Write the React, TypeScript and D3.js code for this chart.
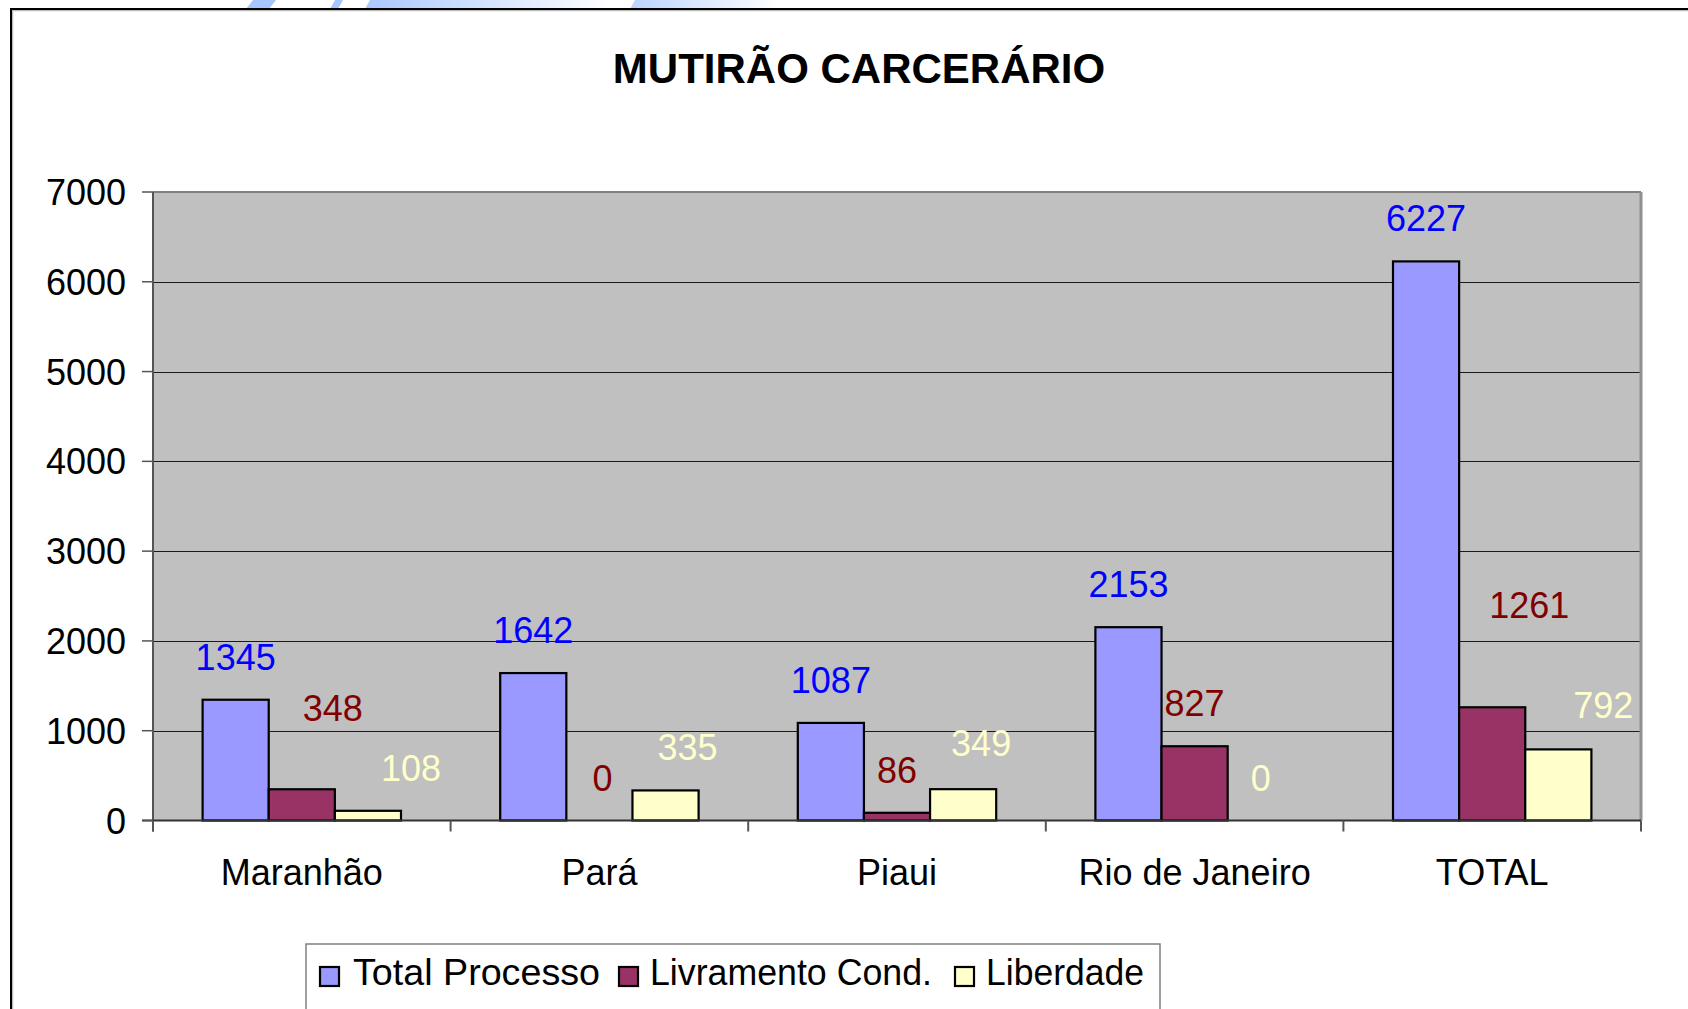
import React, { useEffect } from "react";
import * as d3 from "d3";

const categories = ["Maranhão", "Pará", "Piaui", "Rio de Janeiro", "TOTAL"];
const seriesNames = ["Total Processo", "Livramento Cond.", "Liberdade"];
const totalProcesso = [1345, 1642, 1087, 2153, 6227];
const livramentoCond = [348, 0, 86, 827, 1261];
const liberdade = [108, 335, 349, 0, 792];
const yTicks = [0, 1000, 2000, 3000, 4000, 5000, 6000, 7000];
const title = "MUTIRÃO CARCERÁRIO";

// manual label nudges (px) as in the original, per series then category
const labelDx = [
  [0, 0, 0, 0, 0],
  [31, 3, 0, 0, 37],
  [43, 22, 18, 0, 45],
];
const labelDy = [
  [0, 0, 0, 0, 0],
  [-38, 0, 0, 0, -59],
  [0, 0, -3, 0, -1],
];

const fills = ["#9999FF", "#993366", "#FFFFCC"];
const labelColors = ["#0000FF", "#800000", "#FFFFCC"];
const FONT = "'Liberation Sans', Arial, Helvetica, sans-serif";

export default function App() {
  useEffect(() => {
    document.body.style.margin = "0";
    document.body.style.overflow = "hidden";
  }, []);

  const W = 1688;
  const H = 1009;
  const plot = { left: 153, right: 1641, top: 192, bottom: 820.5 };
  const seriesValues = [totalProcesso, livramentoCond, liberdade];

  const x0 = d3
    .scaleBand<string>()
    .domain(categories)
    .range([plot.left, plot.right])
    .paddingInner(0)
    .paddingOuter(0);
  const bw = x0.bandwidth();
  const x1 = d3
    .scaleBand<string>()
    .domain(seriesNames)
    .range([bw * (0.75 / 4.5), bw * (3.75 / 4.5)])
    .padding(0);
  const y = d3.scaleLinear().domain([0, 7000]).range([plot.bottom, plot.top]);

  const boundaries = categories.map((c) => x0(c) as number).concat([plot.right]);

  const legendItems = [
    { sq: 319, tx: 353, w: 247 },
    { sq: 618, tx: 650, w: 282 },
    { sq: 954, tx: 986, w: 158 },
  ];

  return (
    <svg
      width={W}
      height={H}
      style={{ position: "absolute", left: 0, top: 0, background: "#fff" }}
      fontFamily={FONT}
    >
      <defs>
        <linearGradient id="wm1" x1="0" x2="1" y1="0" y2="0">
          <stop offset="0" stopColor="#a9c8ff" />
          <stop offset="1" stopColor="#ffffff" />
        </linearGradient>
        <linearGradient id="wm2" x1="0" x2="1" y1="0" y2="0">
          <stop offset="0" stopColor="#bcd4ff" />
          <stop offset="1" stopColor="#ffffff" />
        </linearGradient>
      </defs>
      {/* faint slide decoration above the frame */}
      <polygon points="246,9 253,0 276,0 269,9" fill="#a6c6ff" />
      <polygon points="330,9 335,0 343,0 338,9" fill="#a6c6ff" />
      <polygon points="365,9 370,0 610,0 605,9" fill="url(#wm1)" />
      <polygon points="630,9 635,0 780,0 775,9" fill="url(#wm2)" />

      {/* outer frame */}
      <rect x={12.5} y={10.5} width={1720} height={1100} fill="none" stroke="#bbb" strokeWidth={1.5} />
      <rect x={11} y={9} width={1720} height={1100} fill="none" stroke="#000" strokeWidth={2} />

      {/* title */}
      <text x={859} y={83} textAnchor="middle" fontWeight="bold" fontSize={42} fill="#000">
        {title}
      </text>

      {/* plot area */}
      <rect
        x={plot.left}
        y={plot.top}
        width={plot.right - plot.left}
        height={plot.bottom - plot.top}
        fill="#C0C0C0"
      />
      {yTicks
        .filter((t) => t > 0 && t < 7000)
        .map((t) => (
          <line
            key={"g" + t}
            x1={plot.left}
            x2={plot.right}
            y1={Math.round(y(t)) + 0.5}
            y2={Math.round(y(t)) + 0.5}
            stroke="#1a1a1a"
            strokeWidth={1.2}
          />
        ))}
      {/* plot border top/right */}
      <line x1={plot.left} x2={plot.right} y1={plot.top} y2={plot.top} stroke="#808080" strokeWidth={2} />
      <line x1={plot.right} x2={plot.right} y1={plot.top} y2={plot.bottom} stroke="#909090" strokeWidth={3} />

      {/* bars */}
      {seriesValues.map((vals, si) =>
        vals.map((v, ci) => {
          const bx = (x0(categories[ci]) as number) + (x1(seriesNames[si]) as number);
          const by = y(v);
          const h = plot.bottom - by;
          if (h <= 0) return null;
          return (
            <rect
              key={`b${si}-${ci}`}
              x={bx}
              y={by}
              width={x1.bandwidth()}
              height={h}
              fill={fills[si]}
              stroke="#000"
              strokeWidth={2.2}
            />
          );
        })
      )}

      {/* axes */}
      <line x1={plot.left} x2={plot.left} y1={plot.top} y2={plot.bottom + 11} stroke="#555" strokeWidth={2} />
      <line x1={plot.left - 11} x2={plot.right} y1={plot.bottom} y2={plot.bottom} stroke="#333" strokeWidth={2} />
      {yTicks.map((t) => (
        <g key={"t" + t}>
          <line
            x1={plot.left - 11}
            x2={plot.left}
            y1={y(t)}
            y2={y(t)}
            stroke="#555"
            strokeWidth={1.5}
          />
          <text x={126} y={y(t) + 13} textAnchor="end" fontSize={36} fill="#000">
            {t}
          </text>
        </g>
      ))}
      {boundaries.map((bx, i) => (
        <line
          key={"xt" + i}
          x1={bx}
          x2={bx}
          y1={plot.bottom}
          y2={plot.bottom + 11}
          stroke="#555"
          strokeWidth={2}
        />
      ))}
      {categories.map((c) => (
        <text
          key={"c" + c}
          x={(x0(c) as number) + bw / 2}
          y={885}
          textAnchor="middle"
          fontSize={36}
          fill="#000"
        >
          {c}
        </text>
      ))}

      {/* data labels */}
      {seriesValues.map((vals, si) =>
        vals.map((v, ci) => {
          const cx =
            (x0(categories[ci]) as number) + (x1(seriesNames[si]) as number) + x1.bandwidth() / 2;
          return (
            <text
              key={`l${si}-${ci}`}
              x={cx + labelDx[si][ci]}
              y={y(v) - 30 + labelDy[si][ci]}
              textAnchor="middle"
              fontSize={36}
              fill={labelColors[si]}
            >
              {v}
            </text>
          );
        })
      )}

      {/* legend */}
      <rect x={306} y={944} width={854} height={120} fill="#fff" stroke="#808080" strokeWidth={1.5} />
      {seriesNames.map((s, i) => (
        <g key={"lg" + s}>
          <rect
            x={legendItems[i].sq + 1}
            y={967}
            width={19}
            height={19}
            fill={fills[i]}
            stroke="#000"
            strokeWidth={2.2}
          />
          <text
            x={legendItems[i].tx}
            y={985}
            fontSize={36}
            fill="#000"
            textLength={legendItems[i].w}
            lengthAdjust="spacingAndGlyphs"
          >
            {s}
          </text>
        </g>
      ))}
    </svg>
  );
}
